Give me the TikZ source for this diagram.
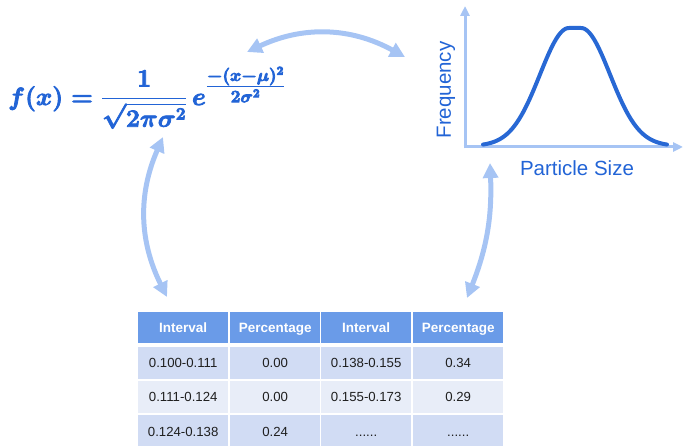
\documentclass[tikz,border=0pt]{standalone}
\usepackage[no-math]{fontspec}
\setsansfont{Liberation Sans}
\usepackage{amsmath}
\usetikzlibrary{arrows.meta}
\definecolor{fblue}{HTML}{2264D6}
\definecolor{cblue}{HTML}{2868D4}
\definecolor{lblue}{HTML}{A6C4F4}
\definecolor{hblue}{HTML}{6A9BE8}
\definecolor{rowA}{HTML}{D1DCF4}
\definecolor{rowB}{HTML}{E8EDF8}
\newsavebox{\formulabox}
\tikzset{
  link/.style={draw=lblue, line width=5pt, {Triangle[length=15pt,width=15pt]}-{Triangle[length=15pt,width=15pt]}},
  axisline/.style={draw=lblue, line width=3pt, -{Triangle[length=10pt,width=9pt]}},
  bellcurve/.style={draw=cblue, line width=4pt, line cap=round},
  lbl/.style={font=\sffamily\fontsize{20.5}{24}\selectfont, text=fblue, inner sep=0pt},
  formulastyle/.style={anchor=base west, inner sep=0pt},
  cell/.style={minimum width=90pt, minimum height=32pt, inner sep=0pt, text height=9.6pt, text depth=0pt, anchor=north west, font=\sffamily\fontsize{13.2}{16}\selectfont, text=black!88},
  headcell/.style={cell, fill=hblue, minimum height=31pt, text=white, font=\sffamily\bfseries\fontsize{13.5}{16}\selectfont},
  cellA/.style={cell, fill=rowA},
  cellB/.style={cell, fill=rowB},
}
\begin{document}
\sbox{\formulabox}{\fontsize{24}{28}\selectfont\color{fblue}\special{pdf:literal direct 2 Tr 0.8 w}\boldmath$\displaystyle f(x)=\frac{1}{\sqrt{2\pi\sigma^2}}\,e^{\tfrac{-(x-\mu)^2}{2\sigma^2}}$\special{pdf:literal direct 0 Tr 1 w}}%
\begin{tikzpicture}[x=1pt,y=-1pt]
\useasboundingbox (0,0) rectangle (683,446);
\node[formulastyle] (formula) at (8,105) {\usebox{\formulabox}};
\coordinate (origin) at (465,147);
\coordinate (ytop) at (465,6);
\coordinate (xend) at (683,147);
\draw[axisline] ([yshift=-1.5pt]origin) -- (ytop);
\draw[axisline] ([xshift=-1.5pt]origin) -- (xend);
\draw[bellcurve] plot[domain=483:667,samples=150,smooth] (\x,{146-118*exp(-0.5*(max(0,abs(\x-575)-6)/29)*(max(0,abs(\x-575)-6)/29))});
\node[lbl, rotate=90] (freq) at (446,90) {Frequency};
\node[lbl] (psize) at (577,168) {Particle Size};
\node[headcell] (h1) at (138,312) {Interval};
\node[headcell] (h2) at (230,312) {Percentage};
\node[headcell] (h3) at (321,312) {Interval};
\node[headcell] (h4) at (413,312) {Percentage};
\node[cellA] (a1) at (138,347) {0.100-0.111};
\node[cellA] (a2) at (230,347) {0.00};
\node[cellA] (a3) at (321,347) {0.138-0.155};
\node[cellA] (a4) at (413,347) {0.34};
\node[cellB] (b1) at (138,381) {0.111-0.124};
\node[cellB] (b2) at (230,381) {0.00};
\node[cellB] (b3) at (321,381) {0.155-0.173};
\node[cellB] (b4) at (413,381) {0.29};
\node[cellA] (c1) at (138,415) {0.124-0.138};
\node[cellA] (c2) at (230,415) {0.24};
\node[cellA] (c3) at (321,415) {......};
\node[cellA] (c4) at (413,415) {......};
\coordinate (fTop) at (247,52);
\coordinate (gLeft) at (405,57);
\coordinate (fBot) at (163,137);
\coordinate (tLeft) at (167,297);
\coordinate (gBot) at (490,163);
\coordinate (tRight) at (467,298);
\draw[link] (fTop) to[bend left=27] (gLeft);
\draw[link] (fBot) to[bend right=25] (tLeft);
\draw[link] (gBot) to[bend left=12] (tRight);
\end{tikzpicture}
\end{document}
